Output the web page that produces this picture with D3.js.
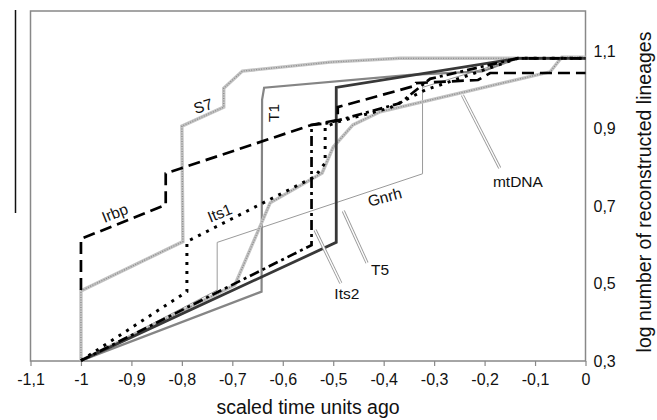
<!DOCTYPE html>
<html><head><meta charset="utf-8">
<script src="https://cdn.jsdelivr.net/npm/d3@7"></script>
<style>
html,body{margin:0;padding:0;background:#fff;}
svg{display:block;font-family:"Liberation Sans",Arial,sans-serif;}
</style></head>
<body><svg id="c" width="657" height="420"></svg>
<script>
// ---- data ----
const xTicks = [-1.1,-1,-0.9,-0.8,-0.7,-0.6,-0.5,-0.4,-0.3,-0.2,-0.1,0];
const xTickLabels = ["-1,1","-1","-0,9","-0,8","-0,7","-0,6","-0,5","-0,4","-0,3","-0,2","-0,1","0"];
const yTicks = [0.3,0.5,0.7,0.9,1.1];
const yTickLabels = ["0,3","0,5","0,7","0,9","1,1"];

const gnrhX = [-1, -0.730, -0.730, -0.323, -0.323, -0.134, 0];
const gnrhY = [0.301, 0.483, 0.606, 0.783, 1.006, 1.081, 1.081];
const t1X = [-1, -0.642, -0.641, -0.637, -0.348, -0.205, -0.134, 0];
const t1Y = [0.301, 0.479, 0.974, 1.005, 1.038, 1.047, 1.081, 1.081];
const s7X = [-1, -1, -0.798, -0.800, -0.717, -0.717, -0.680, -0.506, -0.368, 0];
const s7Y = [0.301, 0.481, 0.608, 0.906, 0.955, 1.004, 1.048, 1.071, 1.081, 1.081];
const mtX = [-1, -0.695, -0.625, -0.522, -0.500, -0.461, -0.407, -0.070, -0.047, 0];
const mtY = [0.301, 0.496, 0.708, 0.785, 0.852, 0.909, 0.943, 1.046, 1.084, 1.084];
const t5X = [-1, -0.494, -0.494, -0.134, 0];
const t5Y = [0.301, 0.606, 1.006, 1.081, 1.081];
const irbpX = [-1, -1, -0.832, -0.832, -0.543, -0.491, -0.491, -0.338, -0.336, -0.213, -0.189, 0];
const irbpY = [0.483, 0.615, 0.703, 0.784, 0.909, 0.922, 0.955, 1.010, 1.017, 1.025, 1.043, 1.043];
const its1X = [-1, -0.790, -0.790, -0.536, -0.516, -0.516, -0.491, -0.388, -0.318, -0.134, 0];
const its1Y = [0.301, 0.479, 0.608, 0.776, 0.811, 0.904, 0.917, 0.953, 0.999, 1.081, 1.081];
const its2X = [-1, -0.543, -0.543, -0.513, -0.487, -0.368, -0.308, -0.134, 0];
const its2Y = [0.301, 0.599, 0.909, 0.913, 0.922, 0.965, 1.028, 1.081, 1.081];

const labelNames = ["S7","T1","Irbp","Its1","Gnrh","mtDNA","T5","Its2"];
const labelX = [-0.758, -0.619, -0.933, -0.725, -0.398, -0.134, -0.407, -0.473];
const labelY = [0.958, 0.940, 0.682, 0.682, 0.723, 0.762, 0.535, 0.475];
const labelRot = [-17, -90, -22, -22, -15, 0, 0, 0];

// leader lines (data coords)
const leaderNames = ["mtDNA","T5","Its2"];
const leaderX1 = [-0.244, -0.480, -0.536];
const leaderY1 = [0.986, 0.687, 0.638];
const leaderX2 = [-0.170, -0.433, -0.485];
const leaderY2 = [0.798, 0.553, 0.501];

// ---- drawing ----
const svg = d3.select("#c");
const x = d3.scaleLinear().domain([-1.1, 0]).range([30.5, 585.5]);
const y = d3.scaleLinear().domain([0.3, 1.203]).range([361, 11]);

svg.append("line").attr("x1",15.5).attr("x2",15.5).attr("y1",10).attr("y2",213)
  .attr("stroke","#111").attr("stroke-width",1.5);

svg.append("rect").attr("x",x(-1.1)).attr("y",y(1.203)).attr("width",x(0)-x(-1.1)).attr("height",y(0.3)-y(1.203))
  .attr("fill","none").attr("stroke","#888").attr("stroke-width",1.5);

const xa = svg.append("g").attr("transform",`translate(0,${y(0.3)})`)
  .call(d3.axisBottom(x).tickValues(xTicks).tickSize(5).tickPadding(8)
        .tickFormat((d,i)=>xTickLabels[i]));
xa.select(".domain").remove();
xa.selectAll("line").attr("stroke","#888").attr("stroke-width",1.2);
xa.selectAll("text").attr("font-size",16).attr("fill","#111").attr("font-family","Liberation Sans, Arial, sans-serif");

const ya = svg.append("g").attr("transform",`translate(${x(0)},0)`)
  .call(d3.axisRight(y).tickValues(yTicks).tickSize(0).tickPadding(8)
        .tickFormat((d,i)=>yTickLabels[i]));
ya.select(".domain").remove();
ya.selectAll("text").attr("font-size",16).attr("fill","#111").attr("font-family","Liberation Sans, Arial, sans-serif");

svg.append("text").attr("x",(x(-1.1)+x(0))/2).attr("y",414).attr("text-anchor","middle")
  .attr("font-size",19.5).attr("fill","#111").text("scaled time units ago");
svg.append("text").attr("transform","translate(651,192) rotate(-90)").attr("text-anchor","middle")
  .attr("font-size",19.5).attr("fill","#111").text("log number of reconstructed lineages");

const line = d3.line().x(d=>x(d[0])).y(d=>y(d[1]));
const pts = (xs,ys)=>xs.map((v,i)=>[v,ys[i]]);
const plot = svg.append("g");

function draw(xs, ys, styles){
  styles.forEach(s=>{
    const p = plot.append("path").datum(pts(xs,ys)).attr("d",line)
      .attr("fill","none").attr("stroke",s.c).attr("stroke-width",s.w)
      .attr("stroke-linejoin","miter").attr("stroke-linecap","butt");
    if (s.d) p.attr("stroke-dasharray",s.d);
  });
}
const tex = [{c:"#c4c4c4",w:3.4},{c:"#8c8c8c",w:1.3,d:"1,1.5"}];

draw(gnrhX, gnrhY, [{c:"#9a9a9a",w:1}]);
draw(t1X, t1Y, [{c:"#858585",w:2.2}]);
draw(s7X, s7Y, tex);
draw(mtX, mtY, tex);
draw(t5X, t5Y, [{c:"#383838",w:2.8}]);
draw(irbpX, irbpY, [{c:"#000",w:2.7,d:"12,6"}]);
draw(its1X, its1Y, [{c:"#000",w:3,d:"3,6"}]);
draw(its2X, its2Y, [{c:"#000",w:2.7,d:"10,4,3,4"}]);

leaderNames.forEach((n,i)=>{
  const a=[x(leaderX1[i]),y(leaderY1[i])], b=[x(leaderX2[i]),y(leaderY2[i])];
  plot.append("line").attr("x1",a[0]).attr("y1",a[1]).attr("x2",b[0]).attr("y2",b[1])
    .attr("stroke","#9a9a9a").attr("stroke-width",3.2);
  plot.append("line").attr("x1",a[0]).attr("y1",a[1]).attr("x2",b[0]).attr("y2",b[1])
    .attr("stroke","#fff").attr("stroke-width",1.4);
});

labelNames.forEach((n,i)=>{
  const px=x(labelX[i]), py=y(labelY[i]);
  svg.append("text").attr("transform",`translate(${px},${py}) rotate(${labelRot[i]})`)
    .attr("text-anchor","middle").attr("dy","0.35em").attr("font-size",15.5).attr("fill","#111").text(n);
});
</script></body></html>
